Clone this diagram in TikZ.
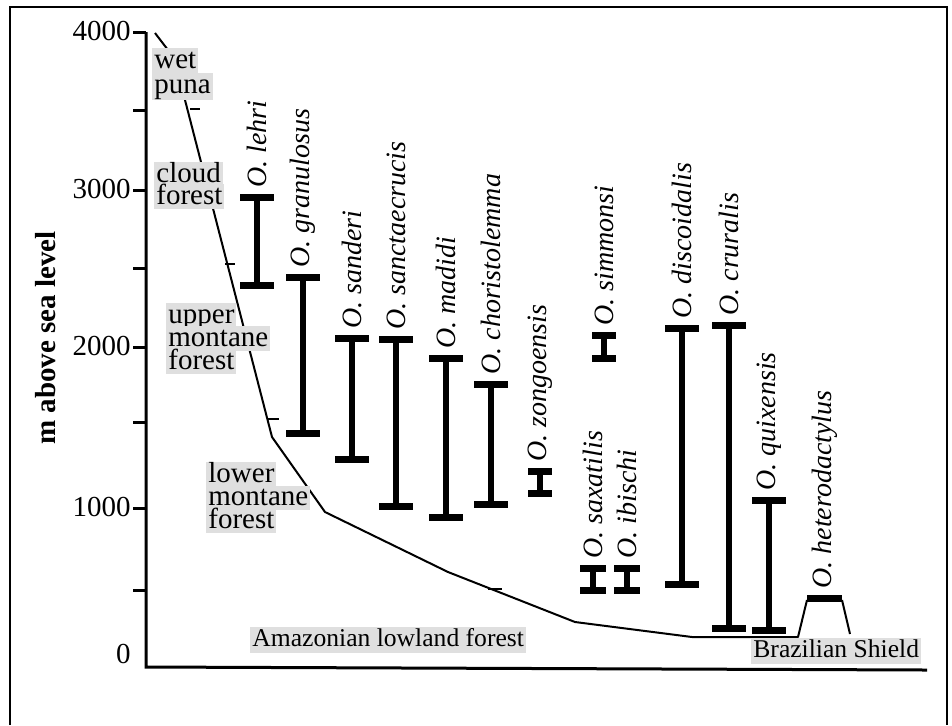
\documentclass[tikz,border=0pt]{standalone}
\usepackage{fontspec}
\setmainfont{Liberation Serif}
\colorlet{hlgray}{gray!25}
\newcommand\tightlines{\lineskiplimit=-20pt\lineskip=0pt}
\newcommand\hlline[1]{{\setlength{\fboxsep}{0pt}\colorbox{hlgray}{\rule[-2.3pt]{0pt}{12.3pt}\hspace{1pt}#1\hspace{1pt}}}}
\begin{document}
\begin{tikzpicture}[x=0.5pt,y=-0.5pt]
\tikzset{
 axisline/.style={line width=1.5pt},
 frameline/.style={line width=1pt},
 terrain/.style={line width=1pt, line join=round},
 curvetick/.style={line width=1pt},
 stemline/.style={line width=3pt},
 capline/.style={line width=3.5pt},
 ticklbl/.style={anchor=east, inner sep=0pt, font=\fontsize{14.5}{16}\selectfont},
 sp/.style={rotate=90, anchor=west, inner sep=1pt, font=\fontsize{14}{16}\selectfont\itshape},
 hlstack/.style={anchor=north west, align=left, inner sep=0pt},
 hlsmall/.style={fill=hlgray, anchor=base west, inner xsep=1pt, inner ysep=0.5pt, text height=9pt, text depth=3pt, font=\fontsize{12.8}{14}\selectfont},
}
\newcommand\rangebar[6]{%
 \coordinate (#1-t) at (#2,#3);
 \coordinate (#1-b) at (#2,#4);
 \draw[stemline] (#1-t) -- (#1-b);
 \draw[capline] ({#2-#5},#3) -- ({#2+#5},#3);
 \draw[capline] ({#2-#5},#4) -- ({#2+#5},#4);
 \node[sp] (#1) at ([yshift=3.5pt]#1-t) {O. #6};
}
\useasboundingbox (0,0) rectangle (952,725);
% frame
\draw[frameline] (10,725) -- (10,7) -- (947,7) -- (947,725);
% terrain profile
\draw[terrain] (155,33) -- (168,50) -- (185,100) -- (272,437) -- (325,512) -- (448,572) -- (575,622) -- (692,637) -- (798,637) -- (807,600);
\draw[terrain] (842,600) -- (850,634);
% small ticks on the profile
\draw[curvetick] (190,109) -- (200,109);
\draw[curvetick] (225,264) -- (235,264);
\draw[curvetick] (267,419) -- (279,419);
\draw[curvetick] (488,589) -- (502,589);
% axes
\coordinate (ytop) at (146,32);
\coordinate (orig) at (146,667);
\coordinate (xend) at (927,670);
\draw[axisline] (ytop) -- (orig) -- (xend);
\foreach \yy in {32,190,347,508,110,268,422,590} {\draw[axisline] (133,\yy) -- (146,\yy);}
\node[ticklbl] (t4) at (131,31) {4000};
\node[ticklbl] (t3) at (131,189) {3000};
\node[ticklbl] (t2) at (131,346) {2000};
\node[ticklbl] (t1) at (131,507) {1000};
\node[ticklbl] (t0) at (131,654) {0};
\node[rotate=90, font=\fontsize{14.5}{16}\selectfont\bfseries] (ylab) at (46,338) {m above sea level};
% habitat labels
\node[hlstack, font=\fontsize{14.5}{12.5}\selectfont\tightlines] (h1) at (152,48) {\hlline{wet}\\\hlline{puna}};
\node[hlstack, font=\fontsize{14.5}{11}\selectfont\tightlines] (h2) at (154,162) {\hlline{cloud}\\\hlline{forest}};
\node[hlstack, font=\fontsize{14.5}{11.5}\selectfont\tightlines] (h3) at (166,303) {\hlline{upper}\\\hlline{montane}\\\hlline{forest}};
\node[hlstack, font=\fontsize{14.5}{11.5}\selectfont\tightlines] (h4) at (206,462) {\hlline{lower}\\\hlline{montane}\\\hlline{forest}};
\node[hlsmall] (h5) at (250,646) {Amazonian lowland forest};
\node[hlsmall] (h6) at (751,657) {Brazilian Shield};
% species ranges
\rangebar{lehri}{257}{197}{285}{17}{lehri}
\rangebar{gran}{303}{277}{433}{17}{granulosus}
\rangebar{sand}{352}{338}{459}{17}{sanderi}
\rangebar{sanc}{396}{339}{506}{17}{sanctaecrucis}
\rangebar{madi}{446}{358}{517}{17}{madidi}
\rangebar{chor}{491}{384}{504}{17}{choristolemma}
\rangebar{zong}{540}{471}{493}{12}{zongoensis}
\rangebar{simm}{604}{335}{358}{12}{simmonsi}
\rangebar{saxa}{593}{568}{590}{13}{saxatilis}
\rangebar{ibis}{627}{568}{590}{13}{ibischi}
\rangebar{disc}{682}{328}{584}{17}{discoidalis}
\rangebar{crur}{729}{325}{628}{17}{cruralis}
\rangebar{quix}{769}{500}{630}{17}{quixensis}
\coordinate (het-t) at (825,598);
\draw[capline] (807,598) -- (842,598);
\node[sp] (het) at ([yshift=3.5pt]het-t) {O. heterodactylus};
\end{tikzpicture}
\end{document}
